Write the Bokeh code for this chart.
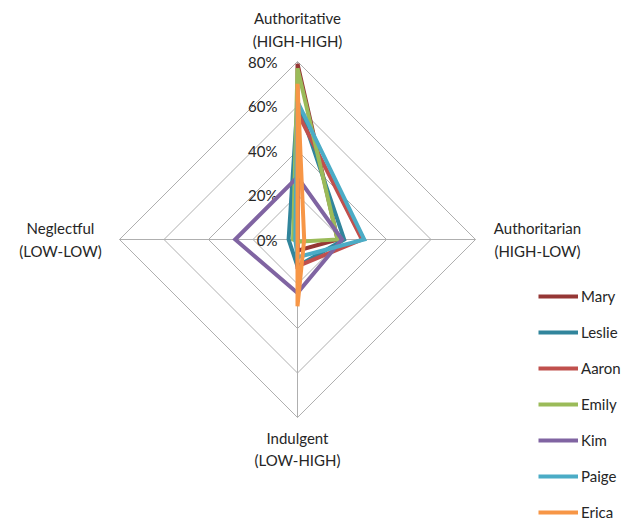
from bokeh.plotting import figure
from bokeh.models import Range1d, Legend, LegendItem
from bokeh.core.properties import value
from bokeh.embed import file_html
from bokeh.resources import INLINE

# Axes (clockwise from top)
categories = ["Authoritative\n(HIGH-HIGH)", "Authoritarian\n(HIGH-LOW)",
              "Indulgent\n(LOW-HIGH)", "Neglectful\n(LOW-LOW)"]
ticks = [0, 20, 40, 60, 80]
tick_labels = ["0%", "20%", "40%", "60%", "80%"]

names = ["Mary", "Leslie", "Aaron", "Emily", "Kim", "Paige", "Erica"]
colors = ["#953735", "#31859C", "#C0504D", "#9BBB59", "#8064A2", "#4BACC6", "#F79646"]
# values in % : Authoritative, Authoritarian, Indulgent, Neglectful
mary = [79, 18, 5, 0]
leslie = [62, 21, 12, 4]
aaron = [57, 29, 12, 0]
emily = [77, 18, 1, 2]
kim = [28, 20, 24, 28]
paige = [62, 30, 8, 1]
erica = [70, 3, 30, 0]
series = [mary, leslie, aaron, emily, kim, paige, erica]

# unit directions for the four spokes
dirs = [(0, 1), (1, 0), (0, -1), (-1, 0)]

W, H = 639, 523
scale = 2.225  # px per %
cx, cy = 297, 239
p = figure(width=W, height=H, output_backend="svg", toolbar_location=None,
           x_range=Range1d(-cx / scale, (W - cx) / scale),
           y_range=Range1d(-(H - cy) / scale, cy / scale),
           min_border=0)
p.axis.visible = False
p.grid.visible = False
p.outline_line_color = None
p.background_fill_color = "white"
p.border_fill_color = "white"

grid_col = "#AFAFAF"
rmax = ticks[-1]
# rings
for t in ticks[1:]:
    xs = [dx * t for dx, dy in dirs] + [dirs[0][0] * t]
    ys = [dy * t for dx, dy in dirs] + [dirs[0][1] * t]
    p.line(xs, ys, line_color=grid_col, line_width=1)
# spokes
for dx, dy in dirs:
    p.line([0, dx * rmax], [0, dy * rmax], line_color=grid_col, line_width=1)

txt_col = "#262626"
font = value("Lato")
# tick labels
p.text(x=[0] * len(ticks), y=ticks, text=tick_labels, x_offset=-20,
       text_align="right", text_baseline="middle", text_font=font,
       text_font_size="15px", text_color=txt_col)

# category labels
lh = 1.25
p.text(x=[0], y=[rmax], text=[categories[0]], y_offset=-12, text_align="center",
       text_baseline="bottom", text_font=font, text_font_size="15px",
       text_line_height=lh, text_color=txt_col)
p.text(x=[rmax], y=[0], text=[categories[1]], x_offset=62, text_align="center",
       text_baseline="middle", text_font=font, text_font_size="15px",
       text_line_height=lh, text_color=txt_col)
p.text(x=[0], y=[-rmax], text=[categories[2]], y_offset=11, text_align="center",
       text_baseline="top", text_font=font, text_font_size="15px",
       text_line_height=lh, text_color=txt_col)
p.text(x=[-rmax], y=[0], text=[categories[3]], x_offset=-59, text_align="center",
       text_baseline="middle", text_font=font, text_font_size="15px",
       text_line_height=lh, text_color=txt_col)

items = []
for name, col, vals in zip(names, colors, series):
    xs = [dx * v for (dx, dy), v in zip(dirs, vals)]
    ys = [dy * v for (dx, dy), v in zip(dirs, vals)]
    xs.append(xs[0]); ys.append(ys[0])
    r = p.line(xs, ys, line_color=col, line_width=4, line_join="miter")
    items.append(LegendItem(label=name, renderers=[r]))

legend = Legend(items=items, location=(538, 1), orientation="vertical",
                glyph_width=40, glyph_height=20, label_height=20, spacing=16,
                label_standoff=3, padding=0, margin=0, border_line_color=None,
                background_fill_alpha=0, label_text_font="Lato",
                label_text_font_size="15px", label_text_color=txt_col)
p.add_layout(legend, "center")

open("out.html", "w").write(file_html(p, INLINE))
